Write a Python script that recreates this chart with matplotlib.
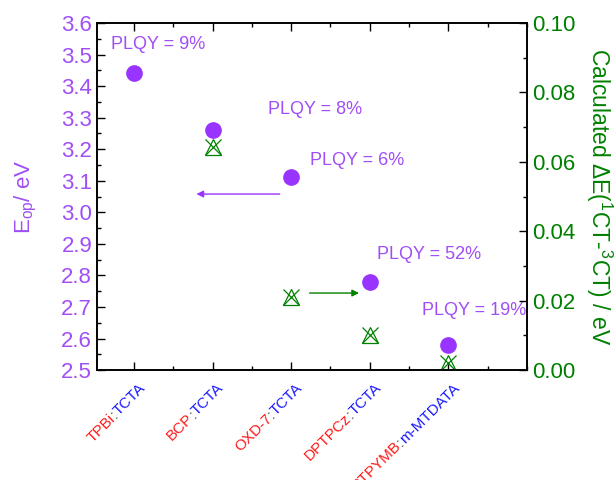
import numpy as np
import matplotlib
matplotlib.use('Agg')
import matplotlib.pyplot as plt
import matplotlib.transforms as transforms
from matplotlib.ticker import MultipleLocator

plt.rcParams['font.family'] = ['Liberation Sans', 'DejaVu Sans']
plt.rcParams['mathtext.fontset'] = 'custom'
plt.rcParams['mathtext.rm'] = 'Liberation Sans'
plt.rcParams['mathtext.it'] = 'Liberation Sans:italic'

# data
hosts = ['TPBi', 'BCP', 'OXD-7', 'DPTPCz', '3TPYMB']
donors = ['TCTA', 'TCTA', 'TCTA', 'TCTA', 'm-MTDATA']
x = [1, 2, 3, 4, 5]
e_op = [3.441, 3.261, 3.112, 2.779, 2.579]
delta_e = [0.0643, 0.021, 0.0101, 0.002]
delta_x = [2, 3, 4, 5]
plqy = ['PLQY = 9%', 'PLQY = 8%', 'PLQY = 6%', 'PLQY = 52%', 'PLQY = 19%']
plqy_pos = [(0.71, 3.533), (2.71, 3.327), (3.24, 3.163), (4.09, 2.865), (4.66, 2.69)]

purple = '#9933FF'
purple_txt = '#A04EF6'
green = '#008000'

fig = plt.figure(figsize=(6.14, 4.8), dpi=100)
ax = fig.add_axes([0.158, 0.229, 0.700, 0.723])
ax2 = ax.twinx()

ax.plot(x, e_op, 'o', color=purple, markersize=11, zorder=3)
ax2.plot(delta_x, delta_e, '^', mfc='none', mec=green, mew=0.9, markersize=11)
ax2.plot(delta_x, delta_e, 'x', color=green, mew=0.9, markersize=11)

for s, (tx, ty) in zip(plqy, plqy_pos):
    ax.text(tx, ty, s, color=purple_txt, fontsize=13, va='center', ha='left')

ax.annotate('', xy=(1.76, 3.058), xytext=(2.89, 3.058),
            arrowprops=dict(arrowstyle='-|>', color=purple, lw=1, mutation_scale=10))
ax2.annotate('', xy=(3.9, 0.0222), xytext=(3.2, 0.0222),
             arrowprops=dict(arrowstyle='-|>', color=green, lw=1, mutation_scale=10))

ax.set_xlim(0.53, 6.0)
ax.set_ylim(2.5, 3.6)
ax2.set_ylim(0.0, 0.1)

ax.set_xticks(x)
ax.set_xticklabels([])
ax.xaxis.set_minor_locator(MultipleLocator(0.5))
ax.yaxis.set_major_locator(MultipleLocator(0.1))
ax.yaxis.set_minor_locator(MultipleLocator(0.05))
ax2.yaxis.set_major_locator(MultipleLocator(0.02))
ax2.yaxis.set_minor_locator(MultipleLocator(0.01))
ax.yaxis.set_major_formatter(matplotlib.ticker.FormatStrFormatter('%.1f'))
ax2.yaxis.set_major_formatter(matplotlib.ticker.FormatStrFormatter('%.2f'))

ax.tick_params(which='both', direction='in', top=True, right=False, width=1)
ax.tick_params(which='major', length=6)
ax.tick_params(which='minor', length=3)
ax.tick_params(axis='y', labelsize=16, labelcolor=purple_txt)
ax2.tick_params(which='both', direction='in', width=1)
ax2.tick_params(which='major', length=6)
ax2.tick_params(which='minor', length=3)
ax2.tick_params(axis='y', labelsize=16, labelcolor=green)

for a in (ax, ax2):
    for sp in a.spines.values():
        sp.set_linewidth(1.2)

ax.set_ylabel(r'E$_{\mathrm{op}}$/ eV', color=purple_txt, fontsize=16, labelpad=16)
ax2.set_ylabel(r'Calculated $\Delta$E($^{1}$CT-$^{3}$CT) / eV', color=green,
               fontsize=16.5, rotation=270, labelpad=28)

# multi-coloured rotated category labels
fig.canvas.draw()
renderer = fig.canvas.get_renderer()
ang = np.deg2rad(45)
lab_size = 11
for xi, h, d in zip(x, hosts, donors):
    parts = [(h, '#FF1A1A'), (':', '#333333'), (d, '#1A1AFF')]
    off = 0.0
    for txt, col in reversed(parts):
        tr = transforms.offset_copy(ax.get_xaxis_transform(), fig=fig,
                                    x=12 - off * np.cos(ang), y=-19 - off * np.sin(ang),
                                    units='dots')
        ax.text(xi, 0, txt, color=col, fontsize=lab_size, rotation=45,
                rotation_mode='anchor', ha='right', va='baseline',
                transform=tr, clip_on=False)
        tmp = ax.text(0, 0, txt, fontsize=lab_size)
        off += tmp.get_window_extent(renderer).width
        tmp.remove()

fig.savefig('out.png', dpi=100)
